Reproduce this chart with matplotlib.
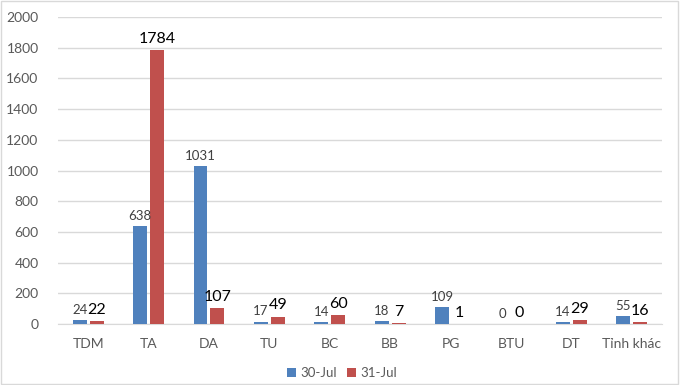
import matplotlib.pyplot as plt
import numpy as np
from matplotlib.patches import Rectangle

categories = ["TDM", "TA", "DA", "TU", "BC", "BB", "PG", "BTU", "DT", "Tỉnh khác"]
jul30 = [24, 638, 1031, 17, 14, 18, 109, 0, 14, 55]
jul31 = [22, 1784, 107, 49, 60, 7, 1, 0, 29, 16]

plt.rcParams['font.family'] = ['Lato', 'DejaVu Sans']

fig = plt.figure(figsize=(6.86, 3.85), dpi=100)
ax = fig.add_axes([0.0845, 0.158, 0.8805, 0.798])

x = np.arange(len(categories))
w = 0.23
off = 0.14
b1 = ax.bar(x - off, jul30, w, color='#4F81BD', label='30-Jul', zorder=3)
b2 = ax.bar(x + off, jul31, w, color='#C0504D', label='31-Jul', zorder=3)

for rect, v in zip(b1, jul30):
    ax.annotate(str(v), (rect.get_x() + rect.get_width() / 2, v), xytext=(0, 3),
                textcoords='offset points', ha='center', va='bottom',
                fontsize=9.5, color='#404040')
for rect, v in zip(b2, jul31):
    ax.annotate(str(v), (rect.get_x() + rect.get_width() / 2, v), xytext=(0, 3),
                textcoords='offset points', ha='center', va='bottom',
                fontsize=11.5, color='black')

ax.set_ylim(0, 2000)
ax.set_xlim(-0.5, len(categories) - 0.5)
ax.set_yticks(range(0, 2001, 200))
ax.set_xticks(x)
ax.set_xticklabels(categories)
ax.tick_params(axis='both', length=0, labelsize=10, colors='#595959')
ax.tick_params(axis='x', pad=10)
ax.tick_params(axis='y', pad=14)
ax.grid(axis='y', color='#D9D9D9', linewidth=1, zorder=0)
for s in ['top', 'right', 'left']:
    ax.spines[s].set_visible(False)
ax.spines['bottom'].set_color('#D9D9D9')

ax.legend(loc='center', bbox_to_anchor=(0.47, -0.16), ncol=2, frameon=False,
          fontsize=9.5, handlelength=0.7, handleheight=0.7, handletextpad=0.3,
          columnspacing=0.8, labelcolor='#595959')

fig.patches.append(Rectangle((0.001, 0.003), 0.988, 0.995, transform=fig.transFigure,
                             fill=False, edgecolor='#D9D9D9', linewidth=1))

fig.savefig('out.png', dpi=100)
